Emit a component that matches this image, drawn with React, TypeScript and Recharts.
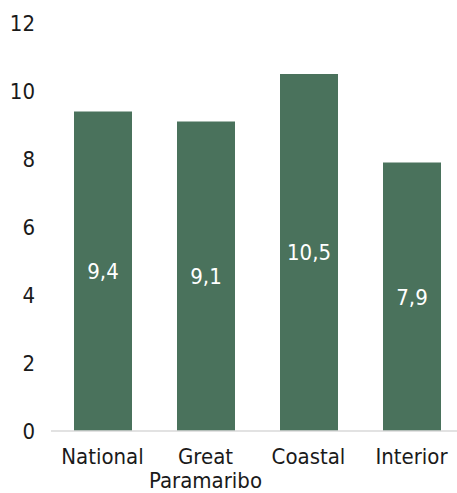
import { BarChart, Bar, XAxis, YAxis, LabelList } from "recharts";

const regions = ["National", "Great Paramaribo", "Coastal", "Interior"];
const rates = [9.4, 9.1, 10.5, 7.9];
const yTicks = [0, 2, 4, 6, 8, 10, 12];

const chartData = regions.map((region, i) => ({ region, rate: rates[i] }));

const FONT = "'Liberation Sans Narrow', 'DejaVu Sans Condensed', Roboto, sans-serif";

function RegionTick({ x, y, payload }: any) {
  const lines = String(payload.value).split(" ");
  return (
    <text x={x} y={y + 27} textAnchor="middle" fill="#1a1a1a" fontSize={22} fontFamily={FONT}>
      {lines.map((line, i) => (
        <tspan key={i} x={x} dy={i === 0 ? 0 : 24}>
          {line}
        </tspan>
      ))}
    </text>
  );
}

export default function App() {
  return (
    <div style={{ width: 457, height: 493, background: "#fff" }}>
      <style>{`body { margin: 0; overflow: hidden; }`}</style>
      <BarChart
        width={457}
        height={493}
        data={chartData}
        margin={{ top: 23, right: -6, bottom: 0, left: 0 }}
        barSize={58}
      >
        <XAxis
          dataKey="region"
          height={62}
          interval={0}
          tickLine={false}
          tickMargin={0}
          axisLine={{ stroke: "#d9d9d9", strokeWidth: 1.5 }}
          tick={<RegionTick />}
        />
        <YAxis
          width={51}
          domain={[0, 12]}
          ticks={yTicks}
          axisLine={false}
          tickLine={false}
          tickMargin={10}
          tick={{ fill: "#1a1a1a", fontSize: 22, fontFamily: FONT }}
        />
        <Bar dataKey="rate" fill="#4a725c" isAnimationActive={false}>
          <LabelList
            dataKey="rate"
            position="center"
            fill="#ffffff"
            fontSize={22}
            fontFamily={FONT}
            formatter={(v: any) => String(v).replace(".", ",")}
          />
        </Bar>
      </BarChart>
    </div>
  );
}
